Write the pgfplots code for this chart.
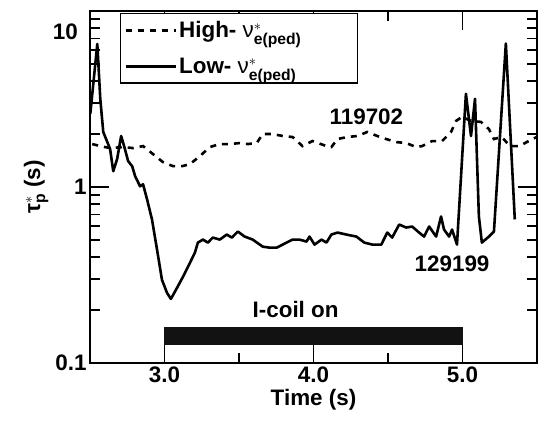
\documentclass[border=0pt]{standalone}
\usepackage{fontspec}
\setmainfont{Liberation Sans}
\usepackage{amsmath}
\usepackage{pgfplots}
\pgfplotsset{compat=1.18}
\usetikzlibrary{calc}

\newcommand{\bigbf}{\bfseries\fontsize{22.5}{27}\selectfont}

\begin{document}
\begin{tikzpicture}
  \begin{axis}[
      scale only axis, width=447bp, height=352bp,
      clip=false,
      xmin=2.5, xmax=5.5, ymin=0.1, ymax=10, ymode=log,
      xtick={3,4,5}, xticklabels={3.0,4.0,5.0},
      minor xtick={3.5,4.5},
      ytick={0.1,1,10}, yticklabels={0.1,1,{}},
      minor ytick={0.2,0.3,0.4,0.5,0.6,0.7,0.8,0.9,2,3,4,5,6,7,8,9},
      /pgf/number format/assume math mode=true,
      every tick label/.append style={font=\bigbf},
      every axis label/.append style={font=\bigbf},
      major tick length=19bp, minor tick length=10bp,
      every tick/.append style={black, line width=1.5bp},
      axis line style={line width=1.8bp},
      xlabel={Time (s)},
      ylabel={τ$^{*}_{\textbf{p}}$ (s)},
      legend style={at={(0.067,0.995)}, anchor=north west, draw=black,
        line width=1.2bp, font=\bigbf, inner xsep=4bp, inner ysep=6bp,
        row sep=15bp},
      legend cell align=left,
      legend image code/.code={\draw[#1] (0bp,0bp) -- (50bp,0bp);},
    ]
    % high collisionality, shot 119702
    \addplot[black, line width=2.6bp, dash pattern=on 6bp off 6bp] coordinates {
      (2.515,1.754)(2.569,1.708)(2.635,1.664)(2.722,1.686)(2.789,1.664)
      (2.856,1.708)(2.923,1.538)(2.990,1.384)(3.057,1.313)(3.117,1.313)
      (3.171,1.348)(3.237,1.497)(3.304,1.686)(3.371,1.754)(3.438,1.754)
      (3.505,1.777)(3.559,1.754)(3.619,1.777)(3.659,2.00)(3.726,2.00)
      (3.793,1.949)(3.860,1.923)(3.926,1.708)(3.993,1.824)(4.087,1.708)
      (4.120,1.686)(4.161,1.873)(4.227,1.923)(4.294,1.949)(4.361,2.054)
      (4.428,1.949)(4.488,1.873)(4.555,1.800)(4.622,1.777)(4.689,1.686)
      (4.729,1.708)(4.796,1.824)(4.863,1.824)(4.923,2.054)(4.957,2.374)
      (4.997,2.502)(5.057,2.374)(5.124,2.343)(5.177,2.136)(5.211,1.873)
      (5.264,1.923)(5.318,1.708)(5.385,1.708)(5.431,1.800)(5.498,1.923)
    };
    \addlegendentry{High- {\mdseries ν}$^{*}_{\textbf{e(ped)}}$\hspace*{50bp}}
    % low collisionality, shot 129199
    \addplot[black, line width=2.6bp, line join=round] coordinates {
      (2.502,2.603)(2.549,6.5)(2.569,3.17)(2.589,2.054)(2.635,1.642)
      (2.656,1.229)(2.682,1.440)(2.709,1.949)(2.729,1.708)(2.756,1.403)
      (2.783,1.313)(2.803,1.151)(2.836,1.009)(2.856,1.036)(2.883,0.851)
      (2.916,0.654)(2.950,0.4406)(2.983,0.2969)(3.017,0.2502)(3.043,0.2312)
      (3.084,0.2673)(3.124,0.3089)(3.171,0.3713)(3.204,0.4235)(3.224,0.4831)
      (3.258,0.5026)(3.291,0.4831)(3.324,0.516)(3.371,0.5026)(3.418,0.5367)
      (3.452,0.516)(3.492,0.5583)(3.538,0.5228)(3.592,0.5026)(3.659,0.4582)
      (3.706,0.4522)(3.753,0.4522)(3.819,0.4831)(3.860,0.5026)(3.906,0.5026)
      (3.953,0.4896)(3.973,0.5228)(4.007,0.4707)(4.054,0.5026)(4.087,0.4831)
      (4.120,0.5367)(4.161,0.5510)(4.221,0.5367)(4.288,0.5228)(4.341,0.4831)
      (4.395,0.4707)(4.455,0.4707)(4.495,0.5510)(4.528,0.516)(4.575,0.6119)
      (4.622,0.5884)(4.662,0.5962)(4.709,0.5510)(4.742,0.5228)(4.776,0.5962)
      (4.823,0.5228)(4.856,0.6802)(4.876,0.5731)(4.910,0.5228)(4.930,0.5731)
      (4.963,0.4707)(5.023,3.386)(5.057,1.949)(5.084,3.17)(5.110,0.6802)
      (5.130,0.4831)(5.177,0.5228)(5.211,0.5583)(5.291,6.54)(5.351,0.654)
    };
    \addlegendentry{Low- {\mdseries ν}$^{*}_{\textbf{e(ped)}}$}
    % I-coil on interval
    \addplot[fill=black!93, draw=none, forget plot] coordinates {
      (3,0.127)(5,0.127)(5,0.161)(3,0.161)};
    \node[font=\bigbf] at (axis cs:3.88,0.2027) {I-coil on};
    \node[font=\bigbf] at (axis cs:4.355,2.5) {119702};
    \node[font=\bigbf] at (axis cs:4.93,0.3665) {129199};
    \node[font=\bigbf, anchor=east, inner sep=0pt] at (axis cs:2.42,7.6) {10};
  \end{axis}
  \pgfresetboundingbox
  \path ($(current axis.south west)+(-90bp,-63bp)$) rectangle ($(current axis.north east)+(1bp,11bp)$);
\end{tikzpicture}
\end{document}
